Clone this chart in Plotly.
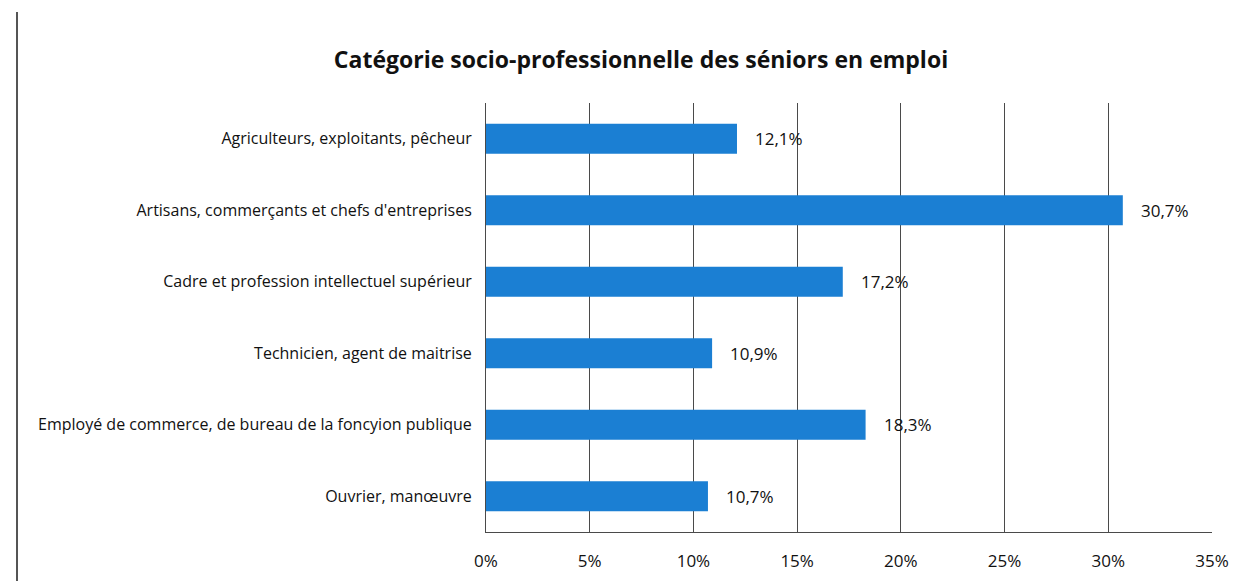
import plotly.graph_objects as go

categories = [
    "Agriculteurs, exploitants, pêcheur",
    "Artisans, commerçants et chefs d'entreprises",
    "Cadre et profession intellectuel supérieur",
    "Technicien, agent de maitrise",
    "Employé de commerce, de bureau de la foncyion publique",
    "Ouvrier, manœuvre",
]
values = [12.1, 30.7, 17.2, 10.9, 18.3, 10.7]
value_labels = ["12,1%", "30,7%", "17,2%", "10,9%", "18,3%", "10,7%"]
tick_vals = [0, 5, 10, 15, 20, 25, 30, 35]
tick_text = ["0%", "5%", "10%", "15%", "20%", "25%", "30%", "35%"]

font_family = "Open Sans, Noto Sans, sans-serif"
bar_color = "#1b7fd3"
grid_color = "#4a4a4a"
text_color = "#111111"

fig = go.Figure(
    go.Bar(
        x=values,
        y=categories,
        orientation="h",
        marker=dict(color=bar_color, line=dict(width=0)),
        width=0.42,
        hoverinfo="skip",
    )
)

for cat, val, lab in zip(categories, values, value_labels):
    fig.add_annotation(
        x=val, y=cat, text=lab, showarrow=False,
        xanchor="left", xshift=16,
        font=dict(family=font_family, size=17, color=text_color),
    )

fig.update_layout(
    xaxis=dict(
        range=[0, 35],
        tickmode="array",
        tickvals=tick_vals,
        ticktext=tick_text,
        showgrid=True,
        gridcolor=grid_color,
        gridwidth=1,
        showline=True,
        linecolor=grid_color,
        linewidth=1,
        zeroline=False,
        ticks="",
        ticklabelstandoff=14,
        tickfont=dict(family=font_family, size=17, color=text_color),
        automargin=False,
        fixedrange=True,
    ),
    yaxis=dict(
        categoryorder="array",
        categoryarray=categories[::-1],
        showline=True,
        linecolor=grid_color,
        linewidth=1,
        showgrid=False,
        ticks="",
        ticklabelstandoff=10,
        tickfont=dict(family=font_family, size=16, color=text_color),
        automargin=False,
        fixedrange=True,
    ),
)

# thin frame line on the left edge of the chart
fig.add_shape(
    type="line", xref="paper", yref="paper",
    x0=-0.646, x1=-0.646, y0=1.212, y1=-0.12,
    line=dict(color="#555555", width=2),
)

fig.update_layout(
    width=1246,
    height=581,
    margin=dict(l=486, r=34, t=103, b=49, autoexpand=False),
    paper_bgcolor="white",
    plot_bgcolor="white",
    showlegend=False,
    bargap=0.58,
    title=dict(
        text="<b>Catégorie socio-professionnelle des séniors en emploi</b>",
        x=0.2135, xref="paper", xanchor="center",
        y=0.897, yref="container", yanchor="middle",
        font=dict(family=font_family, size=23, color="#111111"),
    ),
)

fig.write_html("out.html")
